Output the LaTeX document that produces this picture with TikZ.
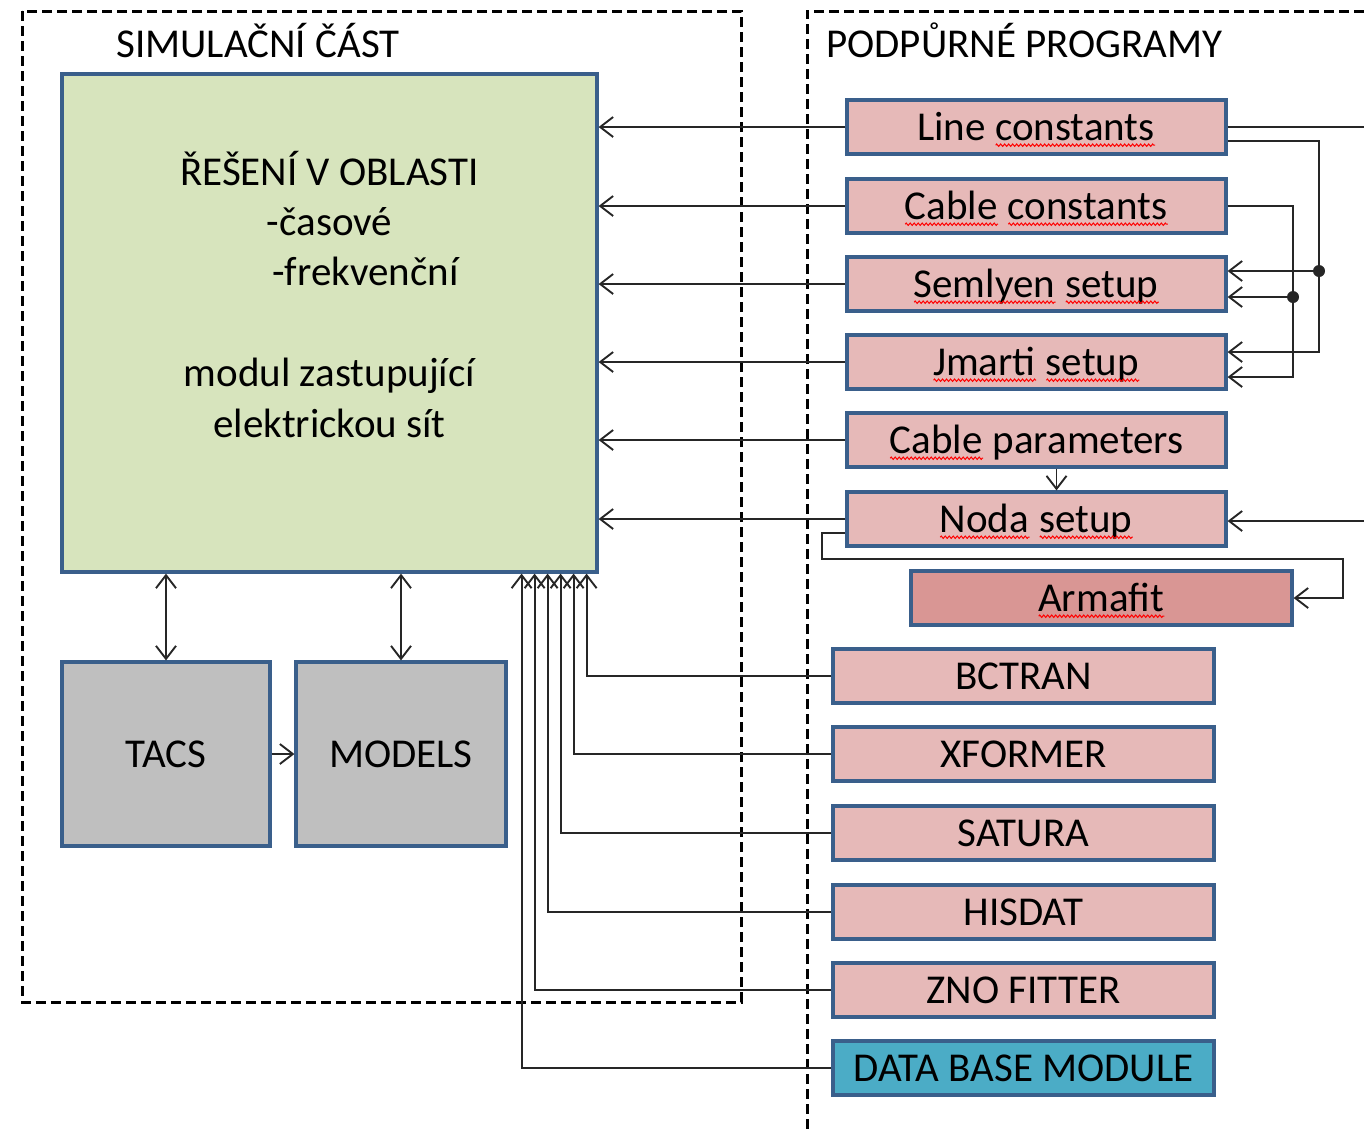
\documentclass[tikz,border=0pt]{standalone}
\usepackage{fontspec}
\setmainfont{Carlito}
\usetikzlibrary{arrows.meta,decorations.pathmorphing}
\definecolor{bordc}{HTML}{3A5F8B}
\definecolor{greenf}{HTML}{D7E4BD}
\definecolor{pinkf}{HTML}{E6B9B8}
\definecolor{armaf}{HTML}{D99694}
\definecolor{grayf}{HTML}{BFBFBF}
\definecolor{dbf}{HTML}{4BACC6}
\definecolor{linec}{HTML}{262626}
\newsavebox\swbox
\newcommand\sw[1]{\sbox\swbox{#1}\leavevmode\rlap{\usebox\swbox}\tikz[baseline=2.5pt]\draw[red,line width=0.5pt,decorate,decoration={zigzag,segment length=2pt,amplitude=0.6pt}] (0pt,0pt) -- (\the\wd\swbox,0pt);}
\begin{document}
\begin{tikzpicture}[x=0.5pt,y=-0.5pt,
  font=\fontsize{20.5pt}{25pt}\selectfont,
  box/.style={draw=bordc, line width=1.6pt, inner sep=0pt, text height=13.2pt, text depth=0pt, minimum height=27pt},
  pinkbox/.style={box, fill=pinkf, minimum width=189.5pt},
  lowbox/.style={box, fill=pinkf, minimum width=190.5pt},
  conn/.style={draw=linec, line width=0.95pt},
  tip/.tip={Straight Barb[length=6.5pt,width=10pt]},
  arr/.style={conn, -tip},
  dbl/.style={conn, tip-tip},
  frame/.style={draw=black, line width=1.5pt, dash pattern=on 5pt off 2.5pt},
  title/.style={anchor=west, inner sep=0pt, text height=13.2pt, text depth=0pt},
  gtext/.style={anchor=base, inner sep=0pt}
]
\useasboundingbox (0,0) rectangle (1364,1132);
% frames
\draw[frame] (22,11) rectangle (741,1002);
\draw[frame] (1364,11) -- (807,11) -- (807,1132);
\node[title] (tsim) at (116,44) {SIMULAČNÍ ČÁST};
\node[title] (tpod) at (826,44) {PODPŮRNÉ PROGRAMY};
% main blocks
\node[box, fill=greenf, minimum width=267.5pt, minimum height=249pt] (green) at (329.5,323) {};
\node[gtext] (g1) at (329.5,185) {ŘEŠENÍ V OBLASTI};
\node[gtext] (g2) at (329.5,235) {-časové};
\node[gtext] (g3) at (365.5,285) {-frekvenční};
\node[gtext] (g4) at (329.5,386) {modul zastupující};
\node[gtext] (g5) at (329.5,437) {elektrickou sít};
\node[box, fill=grayf, minimum width=104pt, minimum height=92pt] (tacs) at (166,754) {TACS};
\node[box, fill=grayf, minimum width=105pt, minimum height=92pt] (models) at (401,754) {MODELS};
% support programs
\node[pinkbox] (lc) at (1036.5,127) {Line \sw{constants}};
\node[pinkbox] (cc) at (1036.5,206) {\sw{Cable} \sw{constants}};
\node[pinkbox] (sm) at (1036.5,284) {\sw{Semlyen} \sw{setup}};
\node[pinkbox] (jm) at (1036.5,362) {\sw{Jmarti} \sw{setup}};
\node[pinkbox] (cp) at (1036.5,440) {\sw{Cable} parameters};
\node[pinkbox] (nd) at (1036.5,519) {\sw{Noda} \sw{setup}};
\node[box, fill=armaf, minimum width=190.5pt] (am) at (1101.5,598) {\sw{Armafit}};
\node[lowbox] (bc) at (1023.5,676) {BCTRAN};
\node[lowbox] (xf) at (1023.5,754) {XFORMER};
\node[lowbox] (sa) at (1023.5,833) {SATURA};
\node[lowbox] (hi) at (1023.5,912) {HISDAT};
\node[lowbox] (zn) at (1023.5,990) {ZNO FITTER};
\node[box, fill=dbf, minimum width=190.5pt] (db) at (1023.5,1068) {DATA BASE MODULE};
% connectors to the solver
\foreach \n in {lc,cc,sm,jm,cp,nd}
  \draw[arr] (\n.west) -- (\n.west -| green.east);
\draw[dbl] (tacs.north) -- (tacs.north |- green.south);
\draw[dbl] (models.north) -- (models.north |- green.south);
\draw[arr] (tacs.east) -- (models.west);
\draw[arr] (bc.west) -| ([xshift=-6pt]green.south east);
\draw[arr] (xf.west) -| ([xshift=-12.5pt]green.south east);
\draw[arr] (sa.west) -| ([xshift=-19pt]green.south east);
\draw[arr] (hi.west) -| ([xshift=-25.5pt]green.south east);
\draw[arr] (zn.west) -| ([xshift=-32pt]green.south east);
\draw[arr] (db.west) -| ([xshift=-38.5pt]green.south east);
% right side connections
\coordinate (outR) at (1364,127);
\coordinate (inR) at (1364,521);
\coordinate (vA) at (1319,0);
\coordinate (vB) at (1293,0);
\coordinate (lcB) at ([yshift=-7pt]lc.east);
\coordinate (smA) at ([yshift=6.5pt]sm.east);
\coordinate (smB) at ([yshift=-6.5pt]sm.east);
\coordinate (jmA) at ([yshift=5pt]jm.east);
\coordinate (jmB) at ([yshift=-7.5pt]jm.east);
\draw[conn] (lc.east) -- (outR);
\draw[arr] (lcB) -| (vA |- jmA) -- (jmA);
\draw[arr] (vA |- smA) -- (smA);
\fill[linec] (vA |- smA) circle (3pt);
\draw[arr] (cc.east) -| (vB |- jmB) -- (jmB);
\draw[arr] (vB |- smB) -- (smB);
\fill[linec] (vB |- smB) circle (3pt);
\draw[arr] ([xshift=10pt]cp.south) -- ([xshift=10pt]nd.north);
\draw[arr] (inR) -- (inR -| nd.east);
\coordinate (nk1) at (822,559);
\coordinate (nk2) at (1343,559);
\draw[arr] ([yshift=-7pt]nd.west) -| (nk1) -- (nk2) |- (am.east);
\end{tikzpicture}
\end{document}
